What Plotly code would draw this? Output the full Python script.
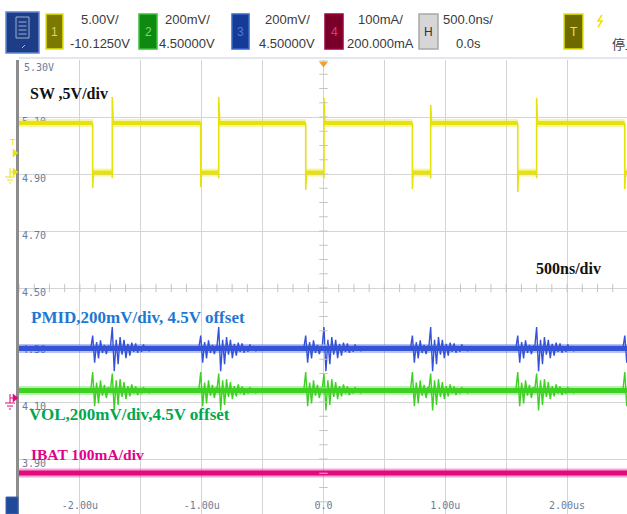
import plotly.graph_objects as go

TIME_TICKS = [-2.0, -1.5, -1.0, -0.5, 0.0, 0.5, 1.0, 1.5, 2.0]
TIME_LABELS = ["-2.00u", "", "-1.00u", "", "0.0", "", "1.00u", "", "2.00us"]
VOLT_TICKS = [5.30, 5.10, 4.90, 4.70, 4.50, 4.30, 4.10, 3.90]
VOLT_LABELS = ["", "5.10", "4.90", "4.70", "4.50", "4.30", "4.10", "3.90"]

# SW node (channel 1) switching edges, microseconds
SW_FALL_US = [-1.895, -1.008, -0.146, 0.730, 1.595, 2.474]
SW_RISE_US = [-1.734, -0.860, 0.004, 0.880, 1.750]
SW_HIGH = 5.079
SW_LOW = 4.905
SW_FALL_DIP = [4.851, 4.854, 4.844, 4.847, 4.837, 4.847]
SW_RISE_PEAK = [5.170, 5.170, 5.167, 5.142, 5.167]

# PMID (ch3), VOL (ch2), IBAT (ch4) levels on screen scale
PMID_LEVEL = 4.288
VOL_LEVEL = 4.140
IBAT_LEVEL = 3.851

# ringing read after each SW edge (offset from level, sampled every RING_STEP_US)
RING_STEP_US = 0.016
PMID_FALL_RING = [0.0, 0.045, -0.050, 0.022, -0.035, 0.028, -0.016, 0.012, -0.020, 0.010, -0.006, 0.0]
PMID_RISE_RING = [0.0, 0.075, -0.080, 0.030, -0.055, 0.040, -0.022, 0.030, -0.034, 0.016, -0.025,
                  0.020, -0.012, 0.018, -0.015, 0.008, -0.012, 0.014, -0.006, 0.008, -0.010,
                  0.004, -0.006, 0.0]
VOL_FALL_RING = [0.0, 0.065, -0.055, 0.028, -0.045, 0.036, -0.018, 0.020, -0.026, 0.012, -0.008, 0.0]
VOL_RISE_RING = [0.0, 0.060, -0.070, 0.036, -0.050, 0.040, -0.022, 0.030, -0.030, 0.016, -0.020,
                 0.022, -0.010, 0.015, -0.016, 0.008, -0.010, 0.012, -0.005, 0.006, -0.008, 0.0]

# ---------------- layout geometry ----------------
W, H = 627, 514
ML, MT = 19, 60
PW, PH = W - ML, H - MT
X_RANGE = [-2.5, 2.492]
Y_RANGE = [5.30 - PH / 57 * 0.2, 5.30]

YEL = "#e8e20c"
BLUE = "#3553d6"
GREEN = "#3fd024"
MAG = "#e2087e"
LBL = "#6b7b99"
GRID = "#d4d4d4"


def px(x):
    return (x - ML) / PW


def py(y):
    return (H - y) / PH


fig = go.Figure()

# ---------- SW trace ----------
bx, by = [], []
t0 = X_RANGE[0]
for i, tf in enumerate(SW_FALL_US):
    bx += [t0, tf, None]
    by += [SW_HIGH, SW_HIGH, None]
    tr = SW_RISE_US[i] if i < len(SW_RISE_US) else X_RANGE[1]
    bx += [tf, tr, None]
    by += [SW_LOW, SW_LOW, None]
    t0 = tr
if len(SW_RISE_US) == len(SW_FALL_US):
    bx += [t0, X_RANGE[1], None]
    by += [SW_HIGH, SW_HIGH, None]

ex, ey = [], []
for tf, d in zip(SW_FALL_US, SW_FALL_DIP):
    ex += [tf, tf, tf + 0.006, None]
    ey += [SW_HIGH, d, SW_LOW, None]
for tr, p in zip(SW_RISE_US, SW_RISE_PEAK):
    ex += [tr, tr, tr + 0.008, None]
    ey += [SW_LOW - 0.02, p, SW_HIGH, None]


def band(x, y, color, core, halo):
    fig.add_trace(go.Scatter(x=x, y=y, mode="lines", line=dict(color=color, width=halo),
                             opacity=0.35, hoverinfo="skip", showlegend=False))
    fig.add_trace(go.Scatter(x=x, y=y, mode="lines", line=dict(color=color, width=core),
                             hoverinfo="skip", showlegend=False))


band(bx, by, YEL, 4, 8)
fig.add_trace(go.Scatter(x=ex, y=ey, mode="lines", line=dict(color=YEL, width=1.6),
                         hoverinfo="skip", showlegend=False))


def rings(level, fall_ring, rise_ring):
    rx, ry = [], []
    for events, ring in ((SW_FALL_US, fall_ring), (SW_RISE_US, rise_ring)):
        for te in events:
            for k, off in enumerate(ring):
                rx.append(te - RING_STEP_US + k * RING_STEP_US)
                ry.append(level + off)
            rx.append(None)
            ry.append(None)
    return rx, ry


# ---------- PMID ----------
band(list(X_RANGE), [PMID_LEVEL, PMID_LEVEL], BLUE, 5, 9)
rx, ry = rings(PMID_LEVEL, PMID_FALL_RING, PMID_RISE_RING)
fig.add_trace(go.Scatter(x=rx, y=ry, mode="lines", line=dict(color=BLUE, width=1.4),
                         hoverinfo="skip", showlegend=False))

# ---------- VOL ----------
band(list(X_RANGE), [VOL_LEVEL, VOL_LEVEL], GREEN, 5, 9)
rx, ry = rings(VOL_LEVEL, VOL_FALL_RING, VOL_RISE_RING)
fig.add_trace(go.Scatter(x=rx, y=ry, mode="lines", line=dict(color=GREEN, width=1.4),
                         hoverinfo="skip", showlegend=False))

# ---------- IBAT ----------
band(list(X_RANGE), [IBAT_LEVEL, IBAT_LEVEL], MAG, 5, 9)

# ---------- center-line minor ticks ----------
hx = [X_RANGE[0] + k * 0.125 for k in range(41)]
fig.add_trace(go.Scatter(x=hx, y=[4.50] * len(hx), mode="markers",
                         marker=dict(symbol="line-ns", size=6, line=dict(color="#c4c4c4", width=1)),
                         hoverinfo="skip", showlegend=False))
vy = [5.30 - k * 0.05 for k in range(33)]
fig.add_trace(go.Scatter(x=[0.0] * len(vy), y=vy, mode="markers",
                         marker=dict(symbol="line-ew", size=6, line=dict(color="#c4c4c4", width=1)),
                         hoverinfo="skip", showlegend=False))

# trigger position marker
fig.add_trace(go.Scatter(x=[0.0], y=[5.288], mode="markers", cliponaxis=False,
                         marker=dict(symbol="triangle-down", size=8, color="#f0a030"),
                         hoverinfo="skip", showlegend=False))

fig.update_layout(
    width=W, height=H,
    margin=dict(l=ML, r=0, t=MT, b=0, pad=0),
    paper_bgcolor="white", plot_bgcolor="white",
    xaxis=dict(range=X_RANGE, tickmode="array", tickvals=TIME_TICKS, ticktext=TIME_LABELS,
               showgrid=True, gridcolor=GRID, gridwidth=1, zeroline=False, showline=False,
               ticks="", ticklabelposition="inside", layer="below traces",
               tickfont=dict(family="DejaVu Sans Mono", size=10, color=LBL)),
    yaxis=dict(range=Y_RANGE, tickmode="array", tickvals=VOLT_TICKS, ticktext=VOLT_LABELS,
               showgrid=True, gridcolor=GRID, gridwidth=1, zeroline=False,
               showline=True, linecolor="#8c8c8c", linewidth=3,
               ticks="", ticklabelposition="inside", ticklabelshift=4, ticklabelstandoff=2,
               layer="below traces",
               tickfont=dict(family="DejaVu Sans Mono", size=10, color=LBL)),
)

ann = []


def text(x, y, s, color, size, family="Liberation Serif", xanchor="left", bold=True):
    ann.append(dict(x=px(x), y=py(y), xref="paper", yref="paper", text=("<b>%s</b>" % s) if bold else s,
                    showarrow=False, xanchor=xanchor, yanchor="middle",
                    font=dict(family=family, size=size, color=color)))


# y label at top
text(22, 67, "5.30V", LBL, 10, family="DejaVu Sans Mono", bold=False)

# trace annotations
text(28, 93, "SW ,5V/div", "#111111", 16)
text(534, 268, "500ns/div", "#111111", 16)
text(29, 317, "PMID,200mV/div, 4.5V offset", "#1e78d2", 17)
text(27, 414, "VOL,200mV/div,4.5V offset", "#00a850", 17)
text(29, 454, "IBAT 100mA/div", "#e4008c", 15.5)

shapes = []


def rect(x0, y0, x1, y1, fill, line, lw=1):
    shapes.append(dict(type="rect", xref="paper", yref="paper", x0=px(x0), x1=px(x1),
                       y0=py(y1), y1=py(y0), fillcolor=fill, line=dict(color=line, width=lw),
                       layer="above"))


def seg(x0, y0, x1, y1, color, lw=1):
    shapes.append(dict(type="line", xref="paper", yref="paper", x0=px(x0), x1=px(x1),
                       y0=py(y0), y1=py(y1), line=dict(color=color, width=lw), layer="above"))


# top border of the graticule
seg(19, 58, 627, 58, "#c8d0dc", 1)

# header: menu icon
rect(6, 12, 39, 53, "#1d3d86", "#5f86cf", 1.5)
rect(16, 17, 29, 38, "rgba(0,0,0,0)", "#9fb0cc", 1)
for yy in (22, 26, 30, 34):
    seg(18.5, yy, 26.5, yy, "#9fb0cc", 1)
seg(22, 48, 25, 45, "#b0b8c8", 1)

HDR = "#3a3a3a"
boxes = [
    (46, 63, "#7c7800", "#e6e600", "1", "#d8d86a", "5.00V/", "-10.1250V", 100),
    (139, 157, "#0e8a10", "#3cc03c", "2", "#7ad87a", "200mV/", "4.50000V", 187),
    (232, 249, "#143c96", "#3a68c8", "3", "#4a7ae8", "200mV/", "4.50000V", 287),
    (325, 343, "#780028", "#a00040", "4", "#e83480", "100mA/", "200.000mA", 380),
]
for x0, x1, fill, line, num, ncol, t1, t2, tc in boxes:
    rect(x0, 14, x1, 49, fill, line, 1.5)
    text((x0 + x1) / 2, 32, num, ncol, 12, family="Liberation Sans", xanchor="center", bold=False)
    text(tc, 20, t1, HDR, 13, family="Liberation Sans", xanchor="center", bold=False)
    text(tc, 43, t2, HDR, 13, family="Liberation Sans", xanchor="center", bold=False)

rect(419, 14, 438, 49, "#d6d6d6", "#a8a8a8", 1.5)
text(428.5, 32, "H", "#333333", 12, family="Liberation Sans", xanchor="center", bold=False)
text(468, 20, "500.0ns/", HDR, 13, family="Liberation Sans", xanchor="center", bold=False)
text(468, 43, "0.0s", HDR, 13, family="Liberation Sans", xanchor="center", bold=False)

rect(564, 14, 583, 49, "#6e6a00", "#e6e600", 1.5)
text(573.5, 32, "T", "#e0e070", 12, family="Liberation Sans", xanchor="center", bold=False)
shapes.append(dict(type="path", xref="paper", yref="paper", layer="above",
                   path="M %f %f L %f %f L %f %f L %f %f" % (px(602), py(15), px(598), py(21),
                                                              px(602), py(21), px(598), py(27)),
                   line=dict(color="#f2e000", width=1.5)))
text(610, 43, "停止", HDR, 13, family="Noto Sans CJK SC", bold=False)

# left margin channel markers
text(13, 142, "T", YEL, 9, family="Liberation Sans", xanchor="center", bold=False)
for (ymark, col) in ((153, YEL), (172, YEL), (398, MAG)):
    shapes.append(dict(type="path", xref="paper", yref="paper", layer="above",
                       path="M %f %f L %f %f L %f %f Z" % (px(13), py(ymark - 4), px(18), py(ymark),
                                                          px(13), py(ymark + 4)),
                       fillcolor=col, line=dict(color=col, width=0.5)))
for (yg, col) in ((172, YEL), (398, MAG)):
    seg(10, yg - 4, 10, yg + 5, col, 1)
    seg(5, yg + 5, 15, yg + 5, col, 1)
    seg(7, yg + 8, 13, yg + 8, col, 1)
    seg(9, yg + 11, 11, yg + 11, col, 1)
    seg(10, yg, 13, yg, col, 1)
rect(6, 497, 18, 514, "#1f4a9a", "#3c64b4", 1)

fig.update_layout(annotations=ann, shapes=shapes)
fig.write_html("out.html", config={"displayModeBar": False},
               post_script="document.body.style.margin='0';document.body.style.padding='0';")
